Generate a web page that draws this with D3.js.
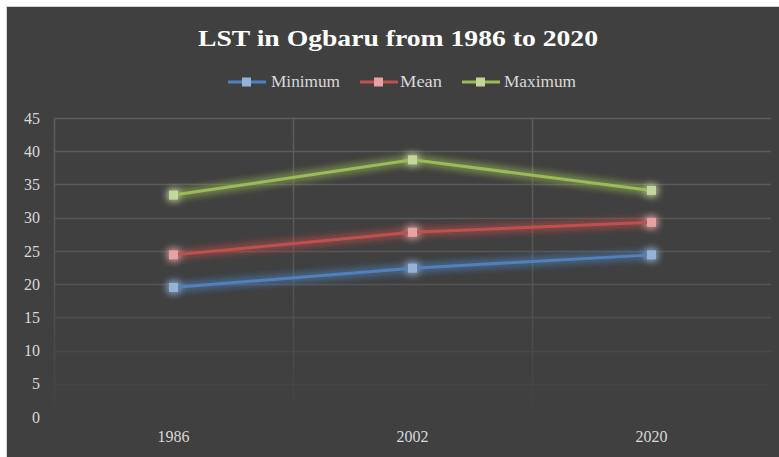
<!DOCTYPE html>
<html>
<head>
<meta charset="utf-8">
<script src="https://cdn.jsdelivr.net/npm/d3@7"></script>
<style>
  body { margin: 0; background: #fff; }
  svg { display: block; }
</style>
</head>
<body>
<div id="container"></div>
<script>
// chart data
const years = ['1986', '2002', '2020'];
const minimum = [19.5, 22.4, 24.4];
const mean = [24.4, 27.8, 29.3];
const maximum = [33.4, 38.7, 34.1];
const yTicks = [0, 5, 10, 15, 20, 25, 30, 35, 40, 45];

const series = [
  { name: 'Minimum', values: minimum, line: '#4f81bd', fill: '#95b3d7' },
  { name: 'Mean', values: mean, line: '#c0504d', fill: '#e6a3a2' },
  { name: 'Maximum', values: maximum, line: '#9bbb59', fill: '#c3d69b' }
];

const svgWidth = 779;
const svgHeight = 457;
const plotLeft = 54, plotRight = 771, plotTop = 118, plotBottom = 417;

const svg = d3.select('#container')
  .append('svg')
  .attr('width', svgWidth)
  .attr('height', svgHeight);

const defs = svg.append('defs');

// fading gridlines
const grad = defs.append('linearGradient')
  .attr('id', 'gridFade')
  .attr('gradientUnits', 'userSpaceOnUse')
  .attr('x1', 0).attr('y1', plotTop)
  .attr('x2', 0).attr('y2', plotBottom);
grad.append('stop').attr('offset', '0%').attr('stop-color', '#5e5e5e');
grad.append('stop').attr('offset', '55%').attr('stop-color', '#555555');
grad.append('stop').attr('offset', '100%').attr('stop-color', '#404040');

const glow = defs.append('filter')
  .attr('id', 'glow')
  .attr('x', '-20%').attr('y', '-50%')
  .attr('width', '140%').attr('height', '200%');
glow.append('feGaussianBlur')
  .attr('in', 'SourceGraphic')
  .attr('stdDeviation', 4)
  .attr('result', 'blur');
const merge = glow.append('feMerge');
merge.append('feMergeNode').attr('in', 'blur');
merge.append('feMergeNode').attr('in', 'blur');
merge.append('feMergeNode').attr('in', 'SourceGraphic');

// chart background with light frame
svg.append('rect')
  .attr('x', 6.5).attr('y', 6.5)
  .attr('width', svgWidth).attr('height', svgHeight)
  .attr('fill', '#404040')
  .attr('stroke', '#d4d4d4')
  .attr('stroke-width', 1);

const xScale = d3.scaleBand()
  .domain(years)
  .range([plotLeft, plotRight]);

const yScale = d3.scaleLinear()
  .domain([0, 45])
  .range([plotBottom, plotTop]);

// horizontal grid
svg.append('g')
  .selectAll('line')
  .data(yTicks.filter(d => d > 0))
  .enter()
  .append('line')
  .attr('x1', plotLeft)
  .attr('x2', plotRight)
  .attr('y1', d => Math.round(yScale(d)) + 0.5)
  .attr('y2', d => Math.round(yScale(d)) + 0.5)
  .attr('stroke', 'url(#gridFade)')
  .attr('stroke-width', 1.5);

// vertical grid at category boundaries
const vx = [plotLeft, xScale('2002'), xScale('2020')];
svg.append('g')
  .selectAll('line')
  .data(vx)
  .enter()
  .append('line')
  .attr('x1', d => Math.round(d) + 0.5)
  .attr('x2', d => Math.round(d) + 0.5)
  .attr('y1', plotTop)
  .attr('y2', plotBottom)
  .attr('stroke', 'url(#gridFade)')
  .attr('stroke-width', 1.5);

// y axis labels
const yAxis = d3.axisLeft(yScale).tickValues(yTicks).tickSize(0).tickPadding(0);
const yg = svg.append('g')
  .attr('transform', 'translate(40,0)')
  .call(yAxis);
yg.select('.domain').remove();
yg.selectAll('text')
  .attr('fill', '#d9d9d9')
  .style('font', '16px "Liberation Serif", serif');

// x axis labels
const xAxis = d3.axisBottom(xScale).tickSize(0).tickPadding(0);
const xg = svg.append('g')
  .attr('transform', 'translate(0,431)')
  .call(xAxis);
xg.select('.domain').remove();
xg.selectAll('text')
  .attr('fill', '#d9d9d9')
  .style('font', '16px "Liberation Serif", serif');

// series lines and markers
const line = d3.line()
  .x((d, i) => xScale(years[i]) + xScale.bandwidth() / 2)
  .y(d => yScale(d));

series.forEach(function(s) {
  const g = svg.append('g').attr('filter', 'url(#glow)');
  g.append('path')
    .datum(s.values)
    .attr('d', line)
    .attr('fill', 'none')
    .attr('stroke', s.line)
    .attr('stroke-width', 3);
  g.selectAll('rect')
    .data(s.values)
    .enter()
    .append('rect')
    .attr('x', (d, i) => xScale(years[i]) + xScale.bandwidth() / 2 - 4.5)
    .attr('y', d => yScale(d) - 4.5)
    .attr('width', 9)
    .attr('height', 9)
    .attr('fill', s.fill);
});

// title
svg.append('text')
  .attr('x', 198)
  .attr('y', 46)
  .attr('fill', '#ffffff')
  .attr('textLength', 400)
  .attr('lengthAdjust', 'spacingAndGlyphs')
  .style('font', 'bold 24px "Liberation Serif", serif')
  .text('LST in Ogbaru from 1986 to 2020');

// legend
const legendPos = [
  { lx: 228, tx: 271, w: 69 },
  { lx: 360, tx: 400, w: 42 },
  { lx: 462, tx: 504, w: 72 }
];
const legend = svg.append('g');
series.forEach(function(s, i) {
  const p = legendPos[i];
  legend.append('line')
    .attr('x1', p.lx).attr('x2', p.lx + 38)
    .attr('y1', 82).attr('y2', 82)
    .attr('stroke', s.line)
    .attr('stroke-width', 3);
  legend.append('rect')
    .attr('x', p.lx + 14).attr('y', 77.5)
    .attr('width', 9).attr('height', 9)
    .attr('fill', s.fill);
  legend.append('text')
    .attr('x', p.tx)
    .attr('y', 87)
    .attr('fill', '#d9d9d9')
    .attr('textLength', p.w)
    .attr('lengthAdjust', 'spacingAndGlyphs')
    .style('font', '16px "Liberation Serif", serif')
    .text(s.name);
});
</script>
</body>
</html>
